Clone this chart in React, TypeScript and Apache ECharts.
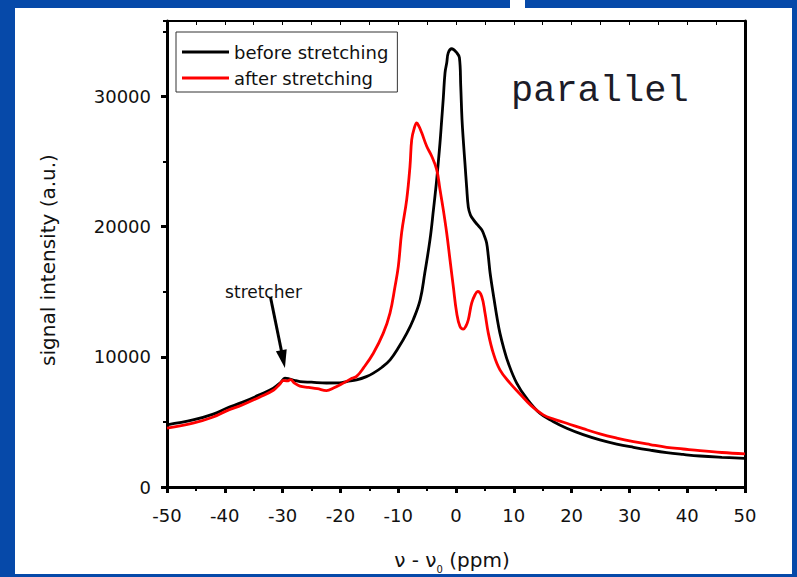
import { useEffect, useRef } from "react";
import * as echarts from "echarts";

// x values (ppm) and intensities
const beforeX = [-50, -45.5, -42, -39.7, -37, -34, -31.6, -30.3, -29.6, -29, -28, -27, -25, -22.4, -20.1, -18.9, -17.2, -15.5, -14.3, -12.8, -11.4, -10, -8.5, -7.4, -6.2, -5.4, -4.5, -3.9, -3.34, -2.77, -2.47, -2.2, -1.9, -1.6, -1.33, -0.74, 0.12, 0.59, 0.82, 1.04, 1.3, 1.56, 1.85, 2.13, 2.5, 3.0, 3.7, 4.45, 4.9, 5.3, 5.6, 5.9, 6.6, 7.1, 7.6, 8.3, 9.05, 10.5, 12.2, 14.5, 16.8, 19.15, 22, 24.9, 27.8, 30.7, 33.6, 36.45, 39.3, 42.2, 46, 50];
const beforeY = [4780, 5150, 5600, 6050, 6500, 7080, 7590, 8050, 8360, 8330, 8200, 8100, 8050, 7990, 8000, 8100, 8230, 8480, 8750, 9200, 9770, 10670, 11820, 12850, 14380, 16440, 19000, 21310, 23620, 26440, 28230, 29850, 31820, 32590, 33370, 33670, 33370, 32980, 30800, 28230, 26400, 24800, 23000, 21500, 20900, 20540, 20150, 19770, 19300, 18750, 17700, 16440, 14380, 13000, 11820, 10600, 9520, 7980, 6820, 5670, 5030, 4510, 4020, 3620, 3300, 3050, 2830, 2640, 2500, 2380, 2280, 2200];

const afterX = [-50, -45.5, -42, -39.7, -37, -34, -31.6, -30.5, -29.9, -29.2, -28.6, -28, -27, -25.5, -24, -22.4, -21.2, -19.5, -18, -17.2, -16, -14.3, -12.58, -11.42, -10.55, -9.98, -9.4, -8.53, -7.96, -7.66, -7.2, -6.8, -6.4, -5.93, -5.07, -4.2, -3.34, -2.77, -2.2, -1.61, -1.04, -0.47, 0.12, 0.69, 1.26, 1.7, 2.13, 2.71, 3.29, 3.75, 4.45, 5.02, 5.59, 6.45, 7.6, 9.34, 11.07, 13, 15.1, 17, 19.15, 22, 24.9, 27.8, 30.7, 33.6, 36.45, 39.3, 42.2, 46, 50];
const afterY = [4520, 4900, 5380, 5850, 6300, 6900, 7430, 7900, 8180, 8150, 8250, 8000, 7750, 7650, 7550, 7410, 7600, 7980, 8350, 8500, 9150, 10280, 11820, 13360, 15410, 16950, 19560, 22080, 24640, 26690, 27600, 27980, 27700, 27210, 26180, 25410, 24380, 22850, 21310, 19510, 17460, 15410, 13360, 12330, 12130, 12350, 12850, 14130, 14770, 15020, 14640, 13360, 11820, 10280, 9000, 7980, 7150, 6250, 5540, 5200, 4900, 4480, 4080, 3760, 3490, 3260, 3050, 2920, 2790, 2650, 2540];

const seriesNames = ["before stretching", "after stretching"];
const seriesColors = ["#000000", "#ff0000"];

const xMin = -50;
const xMax = 50;
const xInterval = 10;
const yMin = 0;
const yMax = 35800;
const yInterval = 10000;

// annotation anchor points in data coordinates
const arrowTail = [-32.1, 14600];
const arrowTip = [-29.6, 9150];
const stretcherLabelPos = [-33.3, 14950];
const stretcherLabel = "stretcher";
const panelLabel = "parallel";

const FONT = '"DejaVu Sans", sans-serif';

export default function App() {
  const ref = useRef<HTMLDivElement>(null);

  useEffect(() => {
    if (!ref.current) return;
    const chart = echarts.init(ref.current, null, { renderer: "svg" });
    const pair = (xs: number[], ys: number[]) => xs.map((x, i) => [x, ys[i]]);

    chart.setOption({
      animation: false,
      backgroundColor: "transparent",
      grid: { left: 167, right: 52, top: 21, bottom: 90, containLabel: false },
      legend: {
        orient: "vertical",
        left: 176,
        top: 32,
        icon: "rect",
        itemWidth: 47,
        itemHeight: 3,
        itemGap: 6,
        padding: [10, 9, 4, 6],
        borderColor: "#333",
        borderWidth: 1,
        backgroundColor: "#fff",
        selectedMode: false,
        textStyle: { fontFamily: FONT, fontSize: 18, color: "#111", lineHeight: 20 },
        data: seriesNames,
      },
      xAxis: [
        {
          type: "value",
          position: "bottom",
          min: xMin,
          max: xMax,
          interval: xInterval,
          axisLine: { show: true, onZero: false, lineStyle: { color: "#000", width: 3 } },
          axisTick: { show: true, inside: false, length: 6, lineStyle: { color: "#000", width: 3 } },
          minorTick: { show: true, splitNumber: 2, length: 4, lineStyle: { color: "#000", width: 2 } },
          splitLine: { show: false },
          axisLabel: { margin: 19, fontFamily: FONT, fontSize: 18, color: "#111", formatter: (v: number) => String(v) },
        },
        {
          type: "value",
          position: "top",
          min: xMin,
          max: xMax,
          interval: 5,
          axisLine: { show: true, onZero: false, lineStyle: { color: "#000", width: 2 } },
          axisTick: { show: true, inside: true, length: 4, lineStyle: { color: "#000", width: 1 } },
          splitLine: { show: false },
          axisLabel: { show: false },
        },
      ],
      yAxis: [
        {
          type: "value",
          position: "left",
          min: yMin,
          max: yMax,
          interval: yInterval,
          axisLine: { show: true, onZero: false, lineStyle: { color: "#000", width: 3 } },
          axisTick: { show: true, inside: false, length: 6, lineStyle: { color: "#000", width: 3 } },
          splitLine: { show: false },
          axisLabel: { margin: 16, fontFamily: FONT, fontSize: 18, color: "#111", showMaxLabel: false, formatter: (v: number) => String(v) },
        },
        {
          type: "value",
          position: "left",
          min: yMin,
          max: yMax,
          interval: yInterval / 2,
          axisLine: { show: false, onZero: false },
          axisTick: { show: true, inside: false, length: 4, lineStyle: { color: "#000", width: 2 } },
          splitLine: { show: false },
          axisLabel: { show: false },
        },
        {
          type: "value",
          position: "right",
          min: yMin,
          max: yMax,
          axisLine: { show: true, onZero: false, lineStyle: { color: "#000", width: 3 } },
          axisTick: { show: false },
          splitLine: { show: false },
          axisLabel: { show: false },
        },
      ],
      series: [
        {
          name: seriesNames[0],
          type: "line",
          data: pair(beforeX, beforeY),
          showSymbol: false,
          symbol: "none",
          smooth: 0.4,
          color: seriesColors[0],
          lineStyle: { color: seriesColors[0], width: 2.8 },
          z: 3,
        },
        {
          name: seriesNames[1],
          type: "line",
          data: pair(afterX, afterY),
          showSymbol: false,
          symbol: "none",
          smooth: 0.4,
          color: seriesColors[1],
          lineStyle: { color: seriesColors[1], width: 2.8 },
          z: 4,
        },
      ],
    });

    const toPx = (p: number[]) => chart.convertToPixel({ xAxisIndex: 0, yAxisIndex: 0 }, p) as number[];
    const tail = toPx(arrowTail);
    const tip = toPx(arrowTip);
    const lbl = toPx(stretcherLabelPos);
    const dx = tip[0] - tail[0];
    const dy = tip[1] - tail[1];
    const len = Math.hypot(dx, dy);
    const ux = dx / len;
    const uy = dy / len;
    const headLen = 18;
    const halfW = 5.5;
    const bx = tip[0] - ux * headLen;
    const by = tip[1] - uy * headLen;

    chart.setOption({
      graphic: [
        {
          type: "text",
          x: 511,
          y: 91,
          style: {
            text: panelLabel,
            font: '37px "Liberation Mono", "Courier New", monospace',
            fill: "#1c1c28",
            align: "left",
            verticalAlign: "middle",
          },
        },
        {
          type: "text",
          x: lbl[0],
          y: lbl[1],
          style: {
            text: stretcherLabel,
            font: "17px " + FONT,
            fill: "#111",
            align: "center",
            verticalAlign: "middle",
          },
        },
        {
          type: "line",
          shape: { x1: tail[0], y1: tail[1], x2: bx + ux * 2, y2: by + uy * 2 },
          style: { stroke: "#000", lineWidth: 3 },
        },
        {
          type: "polygon",
          shape: {
            points: [
              [tip[0], tip[1]],
              [bx - uy * halfW, by + ux * halfW],
              [bx + uy * halfW, by - ux * halfW],
            ],
          },
          style: { fill: "#000" },
        },
        {
          type: "text",
          x: 48,
          y: 260,
          rotation: Math.PI / 2,
          style: {
            text: "signal intensity (a.u.)",
            font: "20px " + FONT,
            fill: "#111",
            align: "center",
            verticalAlign: "middle",
          },
        },
        {
          type: "text",
          x: 452,
          y: 560,
          style: {
            text: "{m|ν - ν}{s|0}{m| (ppm)}",
            align: "center",
            verticalAlign: "middle",
            fill: "#111",
            rich: {
              m: { fontFamily: FONT, fontSize: 20, lineHeight: 22, fill: "#111", color: "#111" },
              s: { fontFamily: FONT, fontSize: 10, lineHeight: 10, padding: [18, 0, 0, 0], fill: "#111", color: "#111" },
            },
          },
        },
      ],
    });

    return () => chart.dispose();
  }, []);

  return (
    <div style={{ position: "fixed", left: 0, top: 0, width: 797, height: 577, background: "#0649A9", overflow: "hidden" }}>
      <div style={{ position: "absolute", left: 15, top: 8, width: 777, height: 566, background: "#fff" }} />
      <div style={{ position: "absolute", left: 510, top: 0, width: 15, height: 8, background: "#fff" }} />
      <div ref={ref} style={{ position: "absolute", left: 0, top: 0, width: 797, height: 577 }} />
    </div>
  );
}
